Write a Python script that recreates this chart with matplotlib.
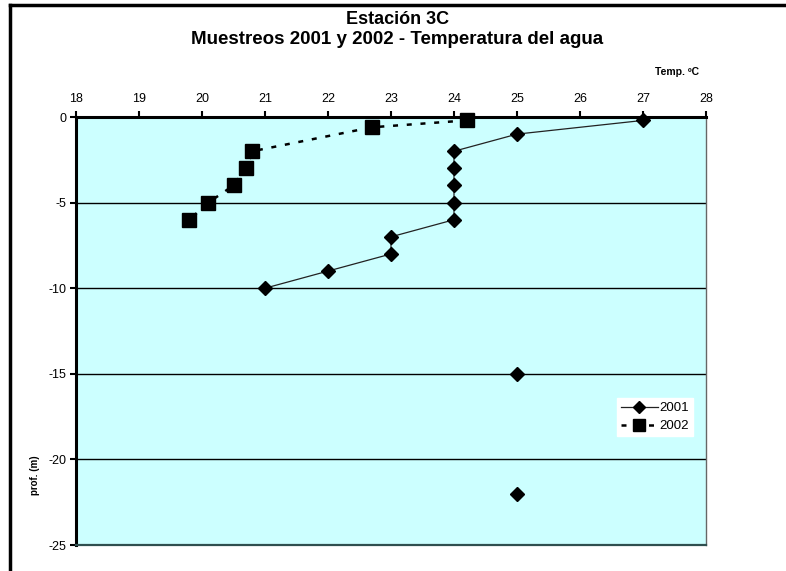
import numpy as np
import matplotlib
matplotlib.use("Agg")
import matplotlib.pyplot as plt
from matplotlib.lines import Line2D

plt.rcParams['font.family'] = ['Liberation Sans', 'DejaVu Sans']
plt.rcParams['axes.unicode_minus'] = False

# temperature profiles, station 3C (depth in m, negative downwards)
temp_2001 = [27, 25, 24, 24, 24, 24, 24, 23, 23, 22, 21, np.nan, 25, np.nan, 25]
depth_2001 = [-0.2, -1, -2, -3, -4, -5, -6, -7, -8, -9, -10, np.nan, -15, np.nan, -22]

temp_2002 = [24.2, 22.7, 20.8, 20.7, 20.5, 20.1, 19.8]
depth_2002 = [-0.2, -0.6, -2, -3, -4, -5, -6]

x_ticks = list(range(18, 29))
y_ticks = [0, -5, -10, -15, -20, -25]

W, H = 786, 571
fig = plt.figure(figsize=(W / 100, H / 100), dpi=100)
ax = fig.add_axes([76 / W, (H - 545) / H, 630 / W, 428 / H])
ax.set_facecolor('#ccffff')

ax.set_xlim(18, 28)
ax.set_ylim(-25, 0)
ax.set_xticks(x_ticks)
ax.set_yticks(y_ticks)
ax.xaxis.tick_top()
ax.tick_params(axis='x', direction='out', length=4, width=1.5, labelsize=9, pad=5)
ax.tick_params(axis='y', direction='out', length=4, width=1.5, labelsize=9, pad=3)

for y in y_ticks[1:-1]:
    ax.axhline(y, color='black', lw=1, zorder=1)

ax.spines['top'].set_linewidth(2.2)
ax.spines['left'].set_linewidth(2.2)
ax.spines['bottom'].set_color('#2f4f4f')
ax.spines['bottom'].set_linewidth(1.6)
ax.spines['right'].set_color('#666666')
ax.spines['right'].set_linewidth(1)
for s in ax.spines.values():
    s.set_zorder(5)

ax.plot(temp_2001, depth_2001, color='#222222', lw=0.9, marker='D', ms=7,
        mfc='black', mec='black', label='2001', zorder=4, clip_on=False)
ax.plot(temp_2002, depth_2002, color='black', lw=1.8, ls=(0, (2, 3.5)), marker='s',
        ms=10, mfc='black', mec='black', label='2002', zorder=4, clip_on=False)

leg = ax.legend(loc='upper left', bbox_to_anchor=((617 - 76) / 630, (545 - 398) / 428),
                frameon=True, fancybox=False, fontsize=9.5, borderpad=0.3,
                handlelength=2.8, handletextpad=0.1, labelspacing=0.45,
                borderaxespad=0, markerscale=0.85)
leg.get_frame().set_edgecolor('white')
leg.get_frame().set_facecolor('white')
leg.get_frame().set_alpha(1)

fig.text(398 / W, 1 - 20 / H, 'Estación 3C', ha='center', va='center',
         fontsize=13, fontweight='bold')
fig.text(397 / W, 1 - 40 / H, 'Muestreos 2001 y 2002 - Temperatura del agua',
         ha='center', va='center', fontsize=13.5, fontweight='bold')
fig.text(677 / W, 1 - 72 / H, 'Temp. ºC', ha='center', va='center',
         fontsize=7.5, fontweight='bold')
fig.text(35 / W, 1 - 475 / H, 'prof. (m)', ha='center', va='center',
         rotation=90, fontsize=7, fontweight='bold')

# outer chart frame
fig.add_artist(Line2D([10 / W, 10 / W], [0, 1 - 5 / H], color='black', lw=2.5,
                      transform=fig.transFigure))
fig.add_artist(Line2D([10 / W, 1], [1 - 5 / H, 1 - 5 / H], color='black', lw=2.5,
                      transform=fig.transFigure))

fig.savefig('out.png', dpi=100)
